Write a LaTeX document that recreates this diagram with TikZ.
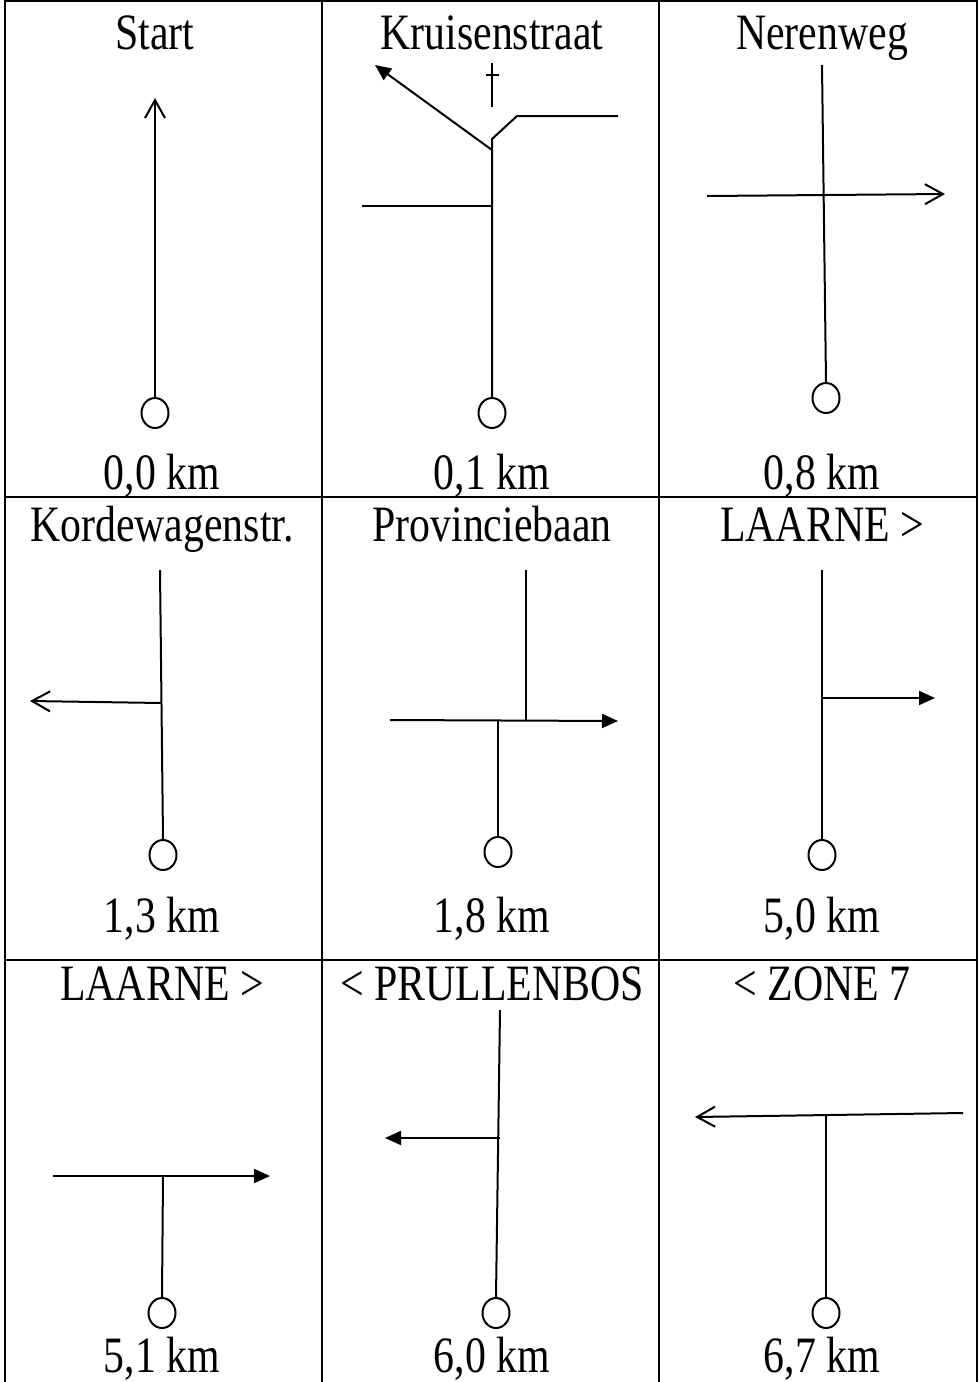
\documentclass[tikz,border=0pt]{standalone}
\usepackage{fontspec}
\setmainfont[FakeStretch=0.82]{Liberation Serif}
\usetikzlibrary{arrows.meta, shapes.geometric}

\begin{document}
\begin{tikzpicture}[
      x=0.5pt, y=-0.5pt,
      line width=1pt,
      txt/.style={anchor=base, inner sep=0pt, font=\fontsize{25.5}{30}\selectfont},
      stop/.style={draw, ellipse, minimum width=13.5pt, minimum height=15pt, inner sep=0pt},
      barb/.style={-{Straight Barb[length=9pt,width=10pt]}},
      fill tip/.style={-{Triangle[length=8pt,width=7pt]}}
    ]
    \useasboundingbox (0,0) rectangle (979,1382);
    % grid
    \draw (5,1382) -- (5,1) -- (977,1) -- (977,1382);
    \draw (322,1) -- (322,1382);
    \draw (659,1) -- (659,1382);
    \draw (5,497) -- (977,497);
    \draw (5,960) -- (977,960);

    % row 1
    \node[txt] (t1) at (155,49) {Start};
    \node[txt] (t2) at (492,49) {Kruisenstraat};
    \node[txt] (t3) at (822,49) {Nerenweg};
    \node[txt] (d1) at (162,489) {0,0 km};
    \node[txt] (d2) at (492,489) {0,1 km};
    \node[txt] (d3) at (822,489) {0,8 km};

    \node[stop] (c1) at (155,413) {};
    \coordinate (e1) at (155,98);
    \draw[barb] (c1.north) -- (e1);

    \node[stop] (c2) at (492,413) {};
    \coordinate (j2) at (492,150);
    \coordinate (k2) at (492,139);
    \coordinate (s2) at (492,206);
    \coordinate (w2) at (362,206);
    \coordinate (a2) at (375,65);
    \coordinate (b2) at (517,116);
    \coordinate (r2) at (618,116);
    \draw (c2.north) -- (k2) -- (b2) -- (r2);
    \draw (s2) -- (w2);
    \draw[fill tip] (j2) -- (a2);
    \draw (492,63) -- (492,107);
    \draw (486,75) -- (499,75);

    \node[stop] (c3) at (826,398) {};
    \coordinate (n3) at (822,65);
    \coordinate (w3) at (707,196);
    \coordinate (e3) at (945,194);
    \draw (c3.north) -- (n3);
    \draw[barb] (w3) -- (e3);

    % row 2
    \node[txt] (t4) at (162,541) {Kordewagenstr.};
    \node[txt] (t5) at (492,541) {Provinciebaan};
    \node[txt] (t6) at (822,541) {LAARNE >};
    \node[txt] (d4) at (162,932) {1,3 km};
    \node[txt] (d5) at (492,932) {1,8 km};
    \node[txt] (d6) at (822,932) {5,0 km};

    \node[stop] (c4) at (163,855) {};
    \coordinate (n4) at (160,570);
    \coordinate (s4) at (162,703);
    \coordinate (w4) at (30,701);
    \draw (c4.north) -- (n4);
    \draw[barb] (s4) -- (w4);

    \node[stop] (c5) at (498,852) {};
    \coordinate (n5) at (526,570);
    \coordinate (m5) at (526,720);
    \coordinate (j5) at (498,720);
    \coordinate (w5) at (390,720);
    \coordinate (e5) at (618,721);
    \draw (n5) -- (m5);
    \draw (c5.north) -- (j5);
    \draw[fill tip] (w5) -- (e5);

    \node[stop] (c6) at (822,855) {};
    \coordinate (n6) at (822,570);
    \coordinate (s6) at (822,698);
    \coordinate (e6) at (935,698);
    \draw (c6.north) -- (n6);
    \draw[fill tip] (s6) -- (e6);

    % row 3
    \node[txt] (t7) at (162,1000) {LAARNE >};
    \node[txt] (t8) at (492,1000) {< PRULLENBOS};
    \node[txt] (t9) at (822,1000) {< ZONE 7};
    \node[txt] (d7) at (162,1372) {5,1 km};
    \node[txt] (d8) at (492,1372) {6,0 km};
    \node[txt] (d9) at (822,1372) {6,7 km};

    \node[stop] (c7) at (162,1313) {};
    \coordinate (j7) at (163,1176);
    \coordinate (w7) at (53,1176);
    \coordinate (e7) at (270,1176);
    \draw (c7.north) -- (j7);
    \draw[fill tip] (w7) -- (e7);

    \node[stop] (c8) at (496,1313) {};
    \coordinate (n8) at (500,1010);
    \coordinate (s8) at (500,1138);
    \coordinate (w8) at (385,1138);
    \draw (c8.north) -- (n8);
    \draw[fill tip] (s8) -- (w8);

    \node[stop] (c9) at (826,1313) {};
    \coordinate (j9) at (826,1116);
    \coordinate (e9) at (963,1113);
    \coordinate (w9) at (695,1117);
    \draw (c9.north) -- (j9);
    \draw[barb] (e9) -- (w9);
\end{tikzpicture}
\end{document}
